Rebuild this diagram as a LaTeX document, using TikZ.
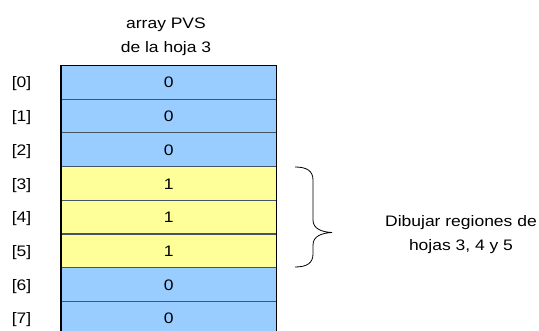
\documentclass[tikz,border=0pt]{standalone}
\usepackage{fontspec}
\setmainfont[FakeStretch=1.15]{Liberation Sans}
\begin{document}
\begin{tikzpicture}[x=1pt,y=-1pt,
  cellblue/.style={fill={rgb,255:red,153;green,204;blue,255}},
  cellyellow/.style={fill={rgb,255:red,255;green,255;blue,153}},
  sepline/.style={draw={rgb,255:red,70;green,85;blue,100},line width=1.2pt},
  edgeline/.style={draw=black,line width=1.3pt},
  txt/.style={font=\fontsize{15.2}{18}\selectfont,inner sep=0pt,anchor=base}]
\useasboundingbox (0,0) rectangle (539,331);
\begin{scope}
\clip (0,0) rectangle (539,331);
% array cells
\def\rowh{33.7}
\foreach \k/\v/\c in {0/0/cellblue,1/0/cellblue,2/0/cellblue,3/1/cellyellow,4/1/cellyellow,5/1/cellyellow,6/0/cellblue,7/0/cellblue}{
  \path[\c] (61,65.5+\k*\rowh) rectangle (276.5,65.5+\k*\rowh+\rowh);
  \node[txt] (v\k) at (168.75,65.5+\k*\rowh+22.5) {\v};
  \node[txt] (i\k) at (21.5,65.5+\k*\rowh+22.5) {[\k]};
}
\foreach \k in {1,...,7}{
  \draw[sepline] (61,65.5+\k*\rowh) -- (276.5,65.5+\k*\rowh);
}
\draw[edgeline] (61,340) -- (61,65.5) -- (276.5,65.5) -- (276.5,340);
\end{scope}
% heading
\node[txt] (h1) at (166,29) {array PVS};
\node[txt] (h2) at (166,53) {de la hoja 3};
% brace
\draw[line width=0.8pt] (295,167) .. controls (307,167) and (313,171) .. (313,180)
  -- (313,220) .. controls (313,229) and (322,232) .. (332,232.5)
  .. controls (322,233) and (313,236) .. (313,245)
  -- (313,254) .. controls (313,263) and (307,267) .. (295,267);
\coordinate (tip) at (332,232.5);
% note
\node[txt] (n1) at (461,227) {Dibujar regiones de};
\node[txt] (n2) at (461,251) {hojas 3, 4 y 5};
\end{tikzpicture}
\end{document}
